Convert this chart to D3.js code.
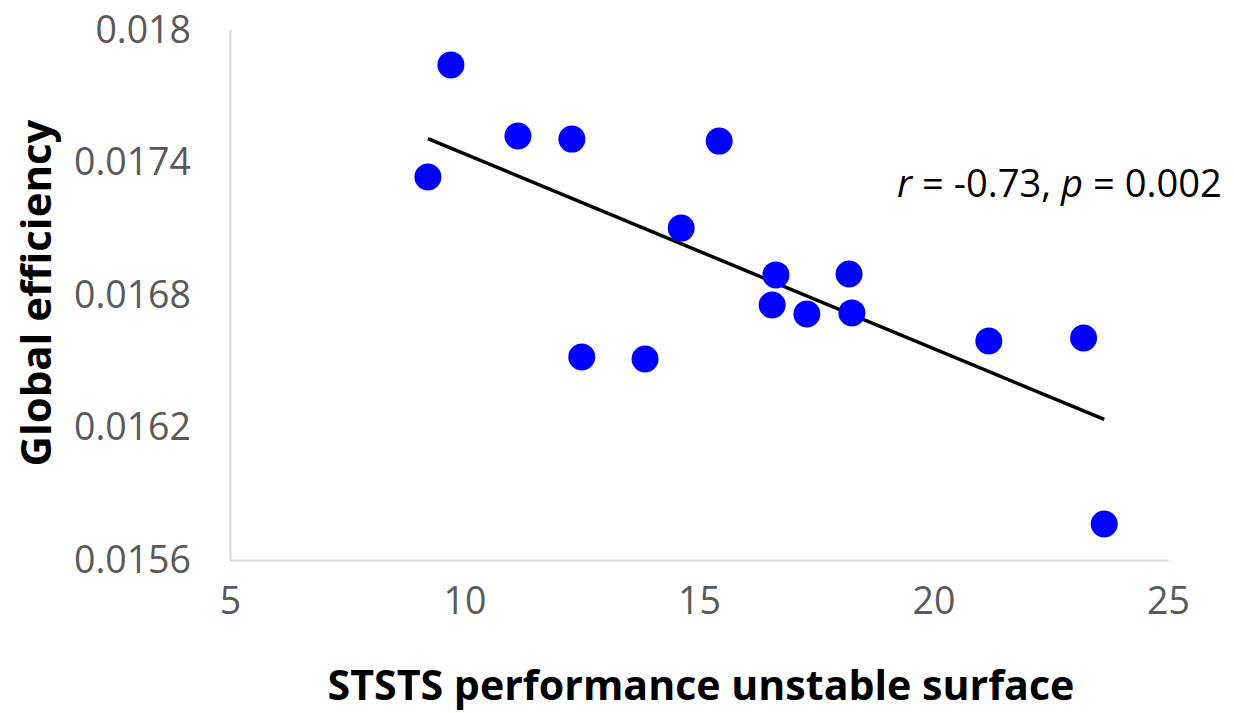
<!DOCTYPE html>
<html>
<head>
<meta charset="utf-8">
<script src="https://cdn.jsdelivr.net/npm/d3@7"></script>
<style>
  html, body { margin: 0; padding: 0; background: #fff; }
  svg { display: block; }
</style>
</head>
<body>
<svg id="chart" width="1234" height="713"></svg>
<script>
// ---- data ----
const xValues = [9.71, 9.22, 11.14, 12.29, 15.43, 14.62, 16.64, 16.56, 17.30, 18.20, 18.26, 12.50, 13.85, 21.18, 23.20, 23.64];
const yValues = [0.017842, 0.017334, 0.01752, 0.017506, 0.017497, 0.017103, 0.016891, 0.016755, 0.016714, 0.016895, 0.016719, 0.016519, 0.01651, 0.016592, 0.016605, 0.015763];
const xTicks = [5, 10, 15, 20, 25];
const yTicks = [0.0156, 0.0162, 0.0168, 0.0174, 0.018];
const xTitle = "STSTS performance unstable surface";
const yTitle = "Global efficiency";

const svg = d3.select("#chart");
const x = d3.scaleLinear().domain([5, 25]).range([230, 1168]);
const y = d3.scaleLinear().domain([0.0156, 0.018]).range([560, 30]);

const font = "'Open Sans', sans-serif";

// axes
const xAxis = svg.append("g").attr("transform", `translate(0,${y(0.0156)})`)
  .call(d3.axisBottom(x).tickValues(xTicks).tickSize(0).tickPadding(27).tickFormat(d3.format("d")));
const yAxis = svg.append("g").attr("transform", `translate(${x(5)},0)`)
  .call(d3.axisLeft(y).tickValues(yTicks).tickSize(0).tickPadding(39).tickFormat(d => String(+d.toFixed(4))));
[xAxis, yAxis].forEach(g => {
  g.select(".domain").attr("stroke", "#d9d9d9").attr("stroke-width", 2);
  g.selectAll("text").attr("font-family", font).attr("font-size", 37.5).attr("fill", "#595959");
});
xAxis.selectAll("text").attr("dy", "0.71em");

// regression line
const n = xValues.length;
const mx = d3.mean(xValues), my = d3.mean(yValues);
let sxy = 0, sxx = 0;
for (let i = 0; i < n; i++) { sxy += (xValues[i]-mx)*(yValues[i]-my); sxx += (xValues[i]-mx)**2; }
const slope = sxy / sxx, icpt = my - slope * mx;
const x0 = d3.min(xValues), x1 = d3.max(xValues);
svg.append("line")
  .attr("x1", x(x0)).attr("y1", y(icpt + slope*x0))
  .attr("x2", x(x1)).attr("y2", y(icpt + slope*x1))
  .attr("stroke", "#000").attr("stroke-width", 3.5);

// points
svg.append("g").selectAll("circle").data(xValues.map((v,i)=>[v,yValues[i]])).join("circle")
  .attr("cx", d => x(d[0])).attr("cy", d => y(d[1])).attr("r", 13.5)
  .attr("fill", "#0000ff");

// titles
function fitText(t, target) {
  const w = t.node().getComputedTextLength();
  const fs = parseFloat(t.attr("font-size"));
  t.attr("font-size", fs * target / w);
}
const xt = svg.append("text").attr("x", 701).attr("y", 700)
  .attr("text-anchor", "middle").attr("font-family", font).attr("font-weight", "bold")
  .attr("font-size", 34).attr("fill", "#000").text(xTitle);
fitText(xt, 747);
const yt = svg.append("text").attr("transform", "translate(51,293) rotate(-90)")
  .attr("text-anchor", "middle").attr("font-family", font).attr("font-weight", "bold")
  .attr("font-size", 34).attr("fill", "#000").text(yTitle);
fitText(yt, 347);

// annotation
const ann = svg.append("text").attr("x", 897).attr("y", 197)
  .attr("font-family", font).attr("font-size", 30).attr("fill", "#000");
ann.append("tspan").attr("font-style", "italic").text("r");
ann.append("tspan").text(" = -0.73, ");
ann.append("tspan").attr("font-style", "italic").text("p");
ann.append("tspan").text(" = 0.002");
fitText(ann, 325);
</script>
</body>
</html>
